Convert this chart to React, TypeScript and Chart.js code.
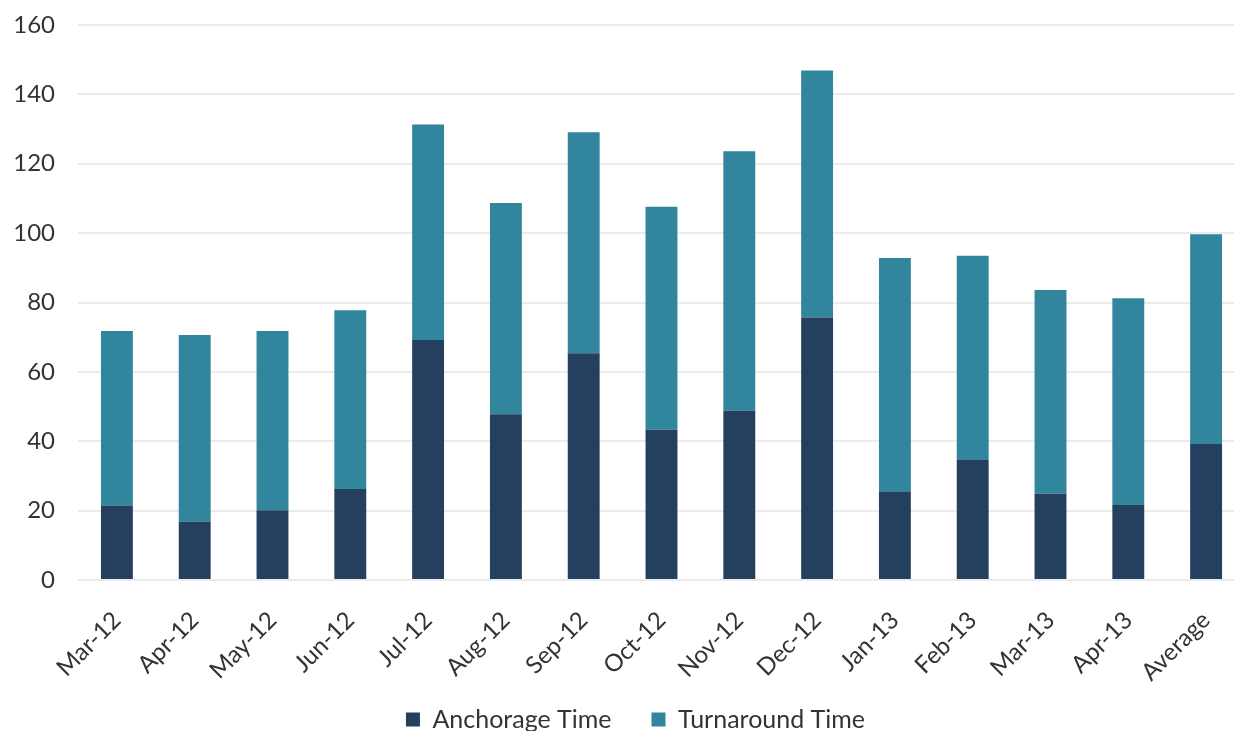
import React, { useEffect, useRef } from "react";
import { Chart, registerables } from "chart.js";

Chart.register(...registerables);

const categories = [
  "Mar-12", "Apr-12", "May-12", "Jun-12", "Jul-12", "Aug-12", "Sep-12", "Oct-12",
  "Nov-12", "Dec-12", "Jan-13", "Feb-13", "Mar-13", "Apr-13", "Average",
];
const anchorageTime = [21.5, 16.8, 20.1, 26.2, 69.2, 47.8, 65.4, 43.3, 48.8, 75.7, 25.4, 34.6, 24.9, 21.6, 39.2];
const turnaroundTime = [50.3, 53.8, 51.7, 51.6, 62.1, 60.9, 63.7, 64.3, 74.8, 71.2, 67.4, 58.9, 58.7, 59.6, 60.5];
const yTicks = [0, 20, 40, 60, 80, 100, 120, 140, 160];

const FONT = "Lato";
const TEXT = "#333333";

const layoutTweaks = {
  id: "layoutTweaks",
  afterLayout(chart: any) {
    const l = chart.legend;
    if (l) {
      l.left += 13;
      l.right += 13;
    }
    const x = chart.scales.x;
    if (x) x.bottom = chart.height;
  },
};

export default function App() {
  const ref = useRef<HTMLCanvasElement | null>(null);
  useEffect(() => {
    if (!ref.current) return;
    const chart = new Chart(ref.current, {
      type: "bar",
      data: {
        labels: categories,
        datasets: [
          {
            label: "Anchorage Time",
            data: anchorageTime,
            backgroundColor: "#253F5F",
            barPercentage: 0.41,
            categoryPercentage: 1,
          },
          {
            label: "Turnaround Time",
            data: turnaroundTime,
            backgroundColor: "#31859C",
            barPercentage: 0.41,
            categoryPercentage: 1,
          },
        ],
      },
      plugins: [layoutTweaks],
      options: {
        responsive: false,
        animation: false,
        layout: { padding: { top: 25, right: 7, left: 0, bottom: 0 } },
        plugins: {
          tooltip: { enabled: false },
          legend: {
            position: "bottom",
            labels: {
              boxWidth: 14,
              boxHeight: 14,
              padding: 40,
              color: TEXT,
              font: { family: FONT, size: 25 },
            },
          },
        },
        scales: {
          x: {
            stacked: true,
            grid: { display: false },
            border: { display: false },
            ticks: {
              color: TEXT,
              font: { family: FONT, size: 24 },
              minRotation: 45,
              maxRotation: 45,
              padding: 18,
            },
            afterFit: (s: any) => {
              s.height = 87;
              s.paddingLeft = 0;
              s.paddingRight = 0;
            },
          },
          y: {
            stacked: true,
            min: 0,
            max: 160,
            afterBuildTicks: (s: any) => {
              s.ticks = yTicks.map((v) => ({ value: v }));
            },
            grid: { color: "#EBEBEB", lineWidth: 2, drawTicks: false },
            border: { display: false },
            ticks: {
              color: TEXT,
              font: { family: FONT, size: 24 },
              padding: 23,
            },
            afterFit: (s: any) => {
              s.width = 78;
              s.paddingTop = 0;
              s.paddingBottom = 0;
            },
          },
        },
      },
    });
    return () => chart.destroy();
  }, []);
  return (
    <div style={{ position: "fixed", left: 0, top: 0, width: 1234, height: 731, overflow: "hidden", background: "#fff" }}>
      <canvas ref={ref} width={1252} height={742} style={{ display: "block" }} />
    </div>
  );
}
